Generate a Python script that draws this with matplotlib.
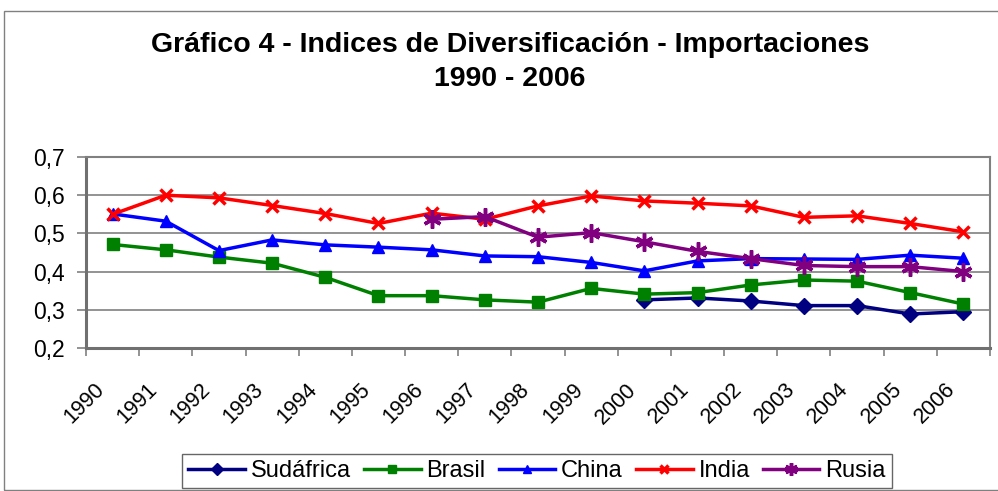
import matplotlib
matplotlib.use("Agg")
import matplotlib.pyplot as plt
import matplotlib.transforms as mtransforms
import numpy as np

plt.rcParams['font.family'] = ['Liberation Sans', 'DejaVu Sans']

years = [str(y) for y in range(1990, 2007)]
nan = np.nan
sudafrica = [nan]*10 + [0.326, 0.331, 0.323, 0.311, 0.311, 0.289, 0.295]
brasil = [0.471, 0.457, 0.438, 0.422, 0.385, 0.337, 0.337, 0.326, 0.320,
          0.356, 0.341, 0.345, 0.365, 0.378, 0.375, 0.345, 0.315]
china = [0.551, 0.532, 0.455, 0.483, 0.470, 0.464, 0.457, 0.441, 0.439,
         0.424, 0.402, 0.428, 0.434, 0.433, 0.432, 0.443, 0.435]
india = [0.550, 0.600, 0.593, 0.573, 0.552, 0.526, 0.553, 0.537, 0.572,
         0.598, 0.585, 0.579, 0.572, 0.542, 0.546, 0.526, 0.504]
rusia = [nan]*6 + [0.537, 0.544, 0.490, 0.502, 0.478, 0.453, 0.434, 0.416, 0.413, 0.413, 0.400]

yticks = [0.2, 0.3, 0.4, 0.5, 0.6, 0.7]
ylabels = ['0,2', '0,3', '0,4', '0,5', '0,6', '0,7']

fig = plt.figure(figsize=(9.98, 4.91), dpi=100)
# outer border
fig.patches.append(plt.Rectangle((4/998, 0.002), 1.0, (491-11)/491 - 0.002,
                                 transform=fig.transFigure, fill=False,
                                 edgecolor='#808080', linewidth=1.0))

ax = fig.add_axes([86/998, 1 - 348/491, (990-86)/998, (348-157)/491])
x = np.arange(len(years))

series = [
    ('Sudáfrica', sudafrica, '#000080', 'D', 8.5),
    ('Brasil', brasil, '#008000', 's', 8),
    ('China', china, '#0000FF', '^', 8.5),
    ('India', india, '#FF0000', 'x', 8),
    ('Rusia', rusia, '#800080', (6, 2, 0), 13),
]
for name, vals, col, mk, ms in series:
    kw = dict(color=col, linewidth=2.5, marker=mk, markersize=ms,
              markerfacecolor=col, markeredgecolor=col, label=name)
    if mk in ('x', (6, 2, 0)):
        kw['markeredgewidth'] = 2.5
    ax.plot(x, vals, **kw)

ax.set_xlim(-0.5, len(years) - 0.5)
ax.set_ylim(0.2, 0.7)
ax.set_yticks(yticks)
ax.set_yticklabels(ylabels, fontsize=16.5)
ax.yaxis.grid(True, color='#808080', linewidth=1.2)
ax.set_axisbelow(True)
ax.set_xticks(x)
ax.set_xticklabels(years, rotation=45, ha='right', va='top',
                   rotation_mode='anchor', fontsize=15.5)
ax.tick_params(axis='x', length=0, pad=0)
offset = mtransforms.ScaledTranslation(-0.19, -0.31, fig.dpi_scale_trans)
for lab in ax.get_xticklabels():
    lab.set_transform(lab.get_transform() + offset)
ax.set_xticks(np.arange(-0.5, len(years), 1.0), minor=True)
ax.tick_params(axis='x', which='minor', length=6, color='#808080', width=1.2)
ax.tick_params(axis='y', length=6.5, color='#808080', width=1.2, pad=9)
for s in ['top', 'right']:
    ax.spines[s].set_color('#808080')
    ax.spines[s].set_linewidth(1.5)
for s in ['left', 'bottom']:
    ax.spines[s].set_color('#707070')
    ax.spines[s].set_linewidth(2.2)

fig.text(510/998, 1 - 45/491, 'Gráfico 4 - Indices de Diversificación - Importaciones',
         ha='center', va='center', fontsize=20.5, fontweight='bold')
fig.text(510/998, 1 - 79/491, '1990 - 2006',
         ha='center', va='center', fontsize=20.5, fontweight='bold')

h, l = ax.get_legend_handles_labels()
leg = fig.legend(h, l, loc='center', bbox_to_anchor=(537/998, 1 - 471/491),
                 ncol=5, fontsize=17, frameon=True, fancybox=False,
                 edgecolor='#404040', handlelength=2.4, handletextpad=0.25,
                 columnspacing=0.55, borderpad=0.25, borderaxespad=0,
                 markerscale=0.7)
leg.get_frame().set_linewidth(1.0)

fig.savefig('out.png', dpi=100)
